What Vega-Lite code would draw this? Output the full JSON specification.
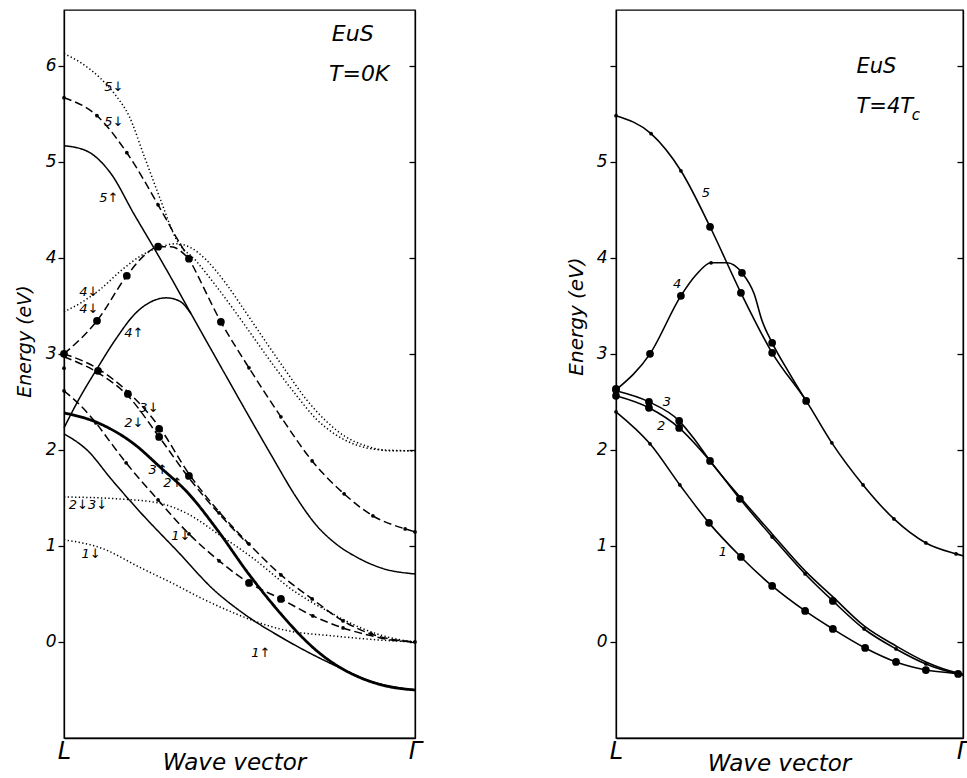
{
  "$schema": "https://vega.github.io/schema/vega-lite/v6.json",
  "padding": {"left": 14, "top": 9, "right": 0, "bottom": 0},
  "spacing": 142,
  "config": {
    "font": "DejaVu Sans",
    "view": {"stroke": "black", "strokeWidth": 1.3},
    "axis": {"domainColor": "black", "domainWidth": 1.3, "tickColor": "black", "tickWidth": 1.3, "labelColor": "black", "titleColor": "black", "labelFontStyle": "italic", "titleFontStyle": "italic", "titleFontWeight": "normal", "grid": false, "labelFlush": false, "labelOverlap": false}
  },
  "datasets": {
    "L_curves": [
      {"curve": "dot5", "series": "downB", "deg": "1", "x": 0, "y": 6.125},
      {"curve": "dot5", "series": "downB", "deg": "1", "x": 0.048, "y": 6.031},
      {"curve": "dot5", "series": "downB", "deg": "1", "x": 0.105, "y": 5.865},
      {"curve": "dot5", "series": "downB", "deg": "1", "x": 0.148, "y": 5.688},
      {"curve": "dot5", "series": "downB", "deg": "1", "x": 0.185, "y": 5.479},
      {"curve": "dot5", "series": "downB", "deg": "1", "x": 0.228, "y": 5.063},
      {"curve": "dot5", "series": "downB", "deg": "1", "x": 0.276, "y": 4.594},
      {"curve": "dot5", "series": "downB", "deg": "1", "x": 0.319, "y": 4.198},
      {"curve": "dot5", "series": "downB", "deg": "1", "x": 0.376, "y": 3.969},
      {"curve": "dot5", "series": "downB", "deg": "1", "x": 0.433, "y": 3.708},
      {"curve": "dot5", "series": "downB", "deg": "1", "x": 0.49, "y": 3.427},
      {"curve": "dot5", "series": "downB", "deg": "1", "x": 0.547, "y": 3.135},
      {"curve": "dot5", "series": "downB", "deg": "1", "x": 0.604, "y": 2.844},
      {"curve": "dot5", "series": "downB", "deg": "1", "x": 0.661, "y": 2.573},
      {"curve": "dot5", "series": "downB", "deg": "1", "x": 0.718, "y": 2.323},
      {"curve": "dot5", "series": "downB", "deg": "1", "x": 0.775, "y": 2.156},
      {"curve": "dot5", "series": "downB", "deg": "1", "x": 0.832, "y": 2.052},
      {"curve": "dot5", "series": "downB", "deg": "1", "x": 0.903, "y": 2.0},
      {"curve": "dot5", "series": "downB", "deg": "1", "x": 1, "y": 1.99},
      {"curve": "dot4", "series": "downB", "deg": "1", "x": 0, "y": 3.438},
      {"curve": "dot4", "series": "downB", "deg": "1", "x": 0.048, "y": 3.531},
      {"curve": "dot4", "series": "downB", "deg": "1", "x": 0.105, "y": 3.677},
      {"curve": "dot4", "series": "downB", "deg": "1", "x": 0.162, "y": 3.865},
      {"curve": "dot4", "series": "downB", "deg": "1", "x": 0.219, "y": 4.021},
      {"curve": "dot4", "series": "downB", "deg": "1", "x": 0.276, "y": 4.115},
      {"curve": "dot4", "series": "downB", "deg": "1", "x": 0.319, "y": 4.146},
      {"curve": "dot4", "series": "downB", "deg": "1", "x": 0.362, "y": 4.104},
      {"curve": "dot4", "series": "downB", "deg": "1", "x": 0.405, "y": 3.979},
      {"curve": "dot4", "series": "downB", "deg": "1", "x": 0.462, "y": 3.729},
      {"curve": "dot4", "series": "downB", "deg": "1", "x": 0.519, "y": 3.427},
      {"curve": "dot4", "series": "downB", "deg": "1", "x": 0.575, "y": 3.125},
      {"curve": "dot4", "series": "downB", "deg": "1", "x": 0.632, "y": 2.823},
      {"curve": "dot4", "series": "downB", "deg": "1", "x": 0.689, "y": 2.531},
      {"curve": "dot4", "series": "downB", "deg": "1", "x": 0.746, "y": 2.302},
      {"curve": "dot4", "series": "downB", "deg": "1", "x": 0.803, "y": 2.135},
      {"curve": "dot4", "series": "downB", "deg": "1", "x": 0.86, "y": 2.042},
      {"curve": "dot4", "series": "downB", "deg": "1", "x": 0.932, "y": 1.99},
      {"curve": "dot4", "series": "downB", "deg": "1", "x": 1, "y": 1.99},
      {"curve": "dash5", "series": "downA", "deg": "1", "x": 0, "y": 5.667},
      {"curve": "dash5", "series": "downA", "deg": "1", "x": 0.094, "y": 5.479},
      {"curve": "dash5", "series": "downA", "deg": "1", "x": 0.179, "y": 5.094},
      {"curve": "dash5", "series": "downA", "deg": "1", "x": 0.268, "y": 4.552},
      {"curve": "dash5", "series": "downA", "deg": "1", "x": 0.319, "y": 4.219},
      {"curve": "dash5", "series": "downA", "deg": "1", "x": 0.356, "y": 3.99},
      {"curve": "dash5", "series": "downA", "deg": "1", "x": 0.447, "y": 3.333},
      {"curve": "dash5", "series": "downA", "deg": "1", "x": 0.527, "y": 2.854},
      {"curve": "dash5", "series": "downA", "deg": "1", "x": 0.618, "y": 2.344},
      {"curve": "dash5", "series": "downA", "deg": "1", "x": 0.707, "y": 1.885},
      {"curve": "dash5", "series": "downA", "deg": "1", "x": 0.798, "y": 1.542},
      {"curve": "dash5", "series": "downA", "deg": "1", "x": 0.88, "y": 1.313},
      {"curve": "dash5", "series": "downA", "deg": "1", "x": 0.972, "y": 1.177},
      {"curve": "dash5", "series": "downA", "deg": "1", "x": 1, "y": 1.146},
      {"curve": "dash4", "series": "downA", "deg": "1", "x": 0, "y": 3.0},
      {"curve": "dash4", "series": "downA", "deg": "1", "x": 0.094, "y": 3.344},
      {"curve": "dash4", "series": "downA", "deg": "1", "x": 0.179, "y": 3.813},
      {"curve": "dash4", "series": "downA", "deg": "1", "x": 0.234, "y": 4.042},
      {"curve": "dash4", "series": "downA", "deg": "1", "x": 0.268, "y": 4.115},
      {"curve": "dash4", "series": "downA", "deg": "1", "x": 0.305, "y": 4.115},
      {"curve": "dash4", "series": "downA", "deg": "1", "x": 0.356, "y": 3.99},
      {"curve": "sol5", "series": "up", "deg": "1", "x": 0, "y": 5.167},
      {"curve": "sol5", "series": "up", "deg": "1", "x": 0.063, "y": 5.115},
      {"curve": "sol5", "series": "up", "deg": "1", "x": 0.134, "y": 4.875},
      {"curve": "sol5", "series": "up", "deg": "1", "x": 0.199, "y": 4.458},
      {"curve": "sol5", "series": "up", "deg": "1", "x": 0.256, "y": 4.104},
      {"curve": "sol5", "series": "up", "deg": "1", "x": 0.305, "y": 3.792},
      {"curve": "sol5", "series": "up", "deg": "1", "x": 0.362, "y": 3.417},
      {"curve": "sol5", "series": "up", "deg": "1", "x": 0.439, "y": 2.917},
      {"curve": "sol5", "series": "up", "deg": "1", "x": 0.513, "y": 2.438},
      {"curve": "sol5", "series": "up", "deg": "1", "x": 0.59, "y": 1.948},
      {"curve": "sol5", "series": "up", "deg": "1", "x": 0.661, "y": 1.51},
      {"curve": "sol5", "series": "up", "deg": "1", "x": 0.718, "y": 1.219},
      {"curve": "sol5", "series": "up", "deg": "1", "x": 0.775, "y": 1.021},
      {"curve": "sol5", "series": "up", "deg": "1", "x": 0.838, "y": 0.875},
      {"curve": "sol5", "series": "up", "deg": "1", "x": 0.903, "y": 0.771},
      {"curve": "sol5", "series": "up", "deg": "1", "x": 1, "y": 0.708},
      {"curve": "sol4", "series": "up", "deg": "1", "x": 0, "y": 2.229},
      {"curve": "sol4", "series": "up", "deg": "1", "x": 0.043, "y": 2.531},
      {"curve": "sol4", "series": "up", "deg": "1", "x": 0.094, "y": 2.844},
      {"curve": "sol4", "series": "up", "deg": "1", "x": 0.148, "y": 3.156},
      {"curve": "sol4", "series": "up", "deg": "1", "x": 0.205, "y": 3.427},
      {"curve": "sol4", "series": "up", "deg": "1", "x": 0.248, "y": 3.542},
      {"curve": "sol4", "series": "up", "deg": "1", "x": 0.291, "y": 3.583},
      {"curve": "sol4", "series": "up", "deg": "1", "x": 0.328, "y": 3.552},
      {"curve": "sol4", "series": "up", "deg": "1", "x": 0.362, "y": 3.417},
      {"curve": "dash3dn", "series": "downA", "deg": "1", "x": 0, "y": 3.0},
      {"curve": "dash3dn", "series": "downA", "deg": "1", "x": 0.097, "y": 2.844},
      {"curve": "dash3dn", "series": "downA", "deg": "1", "x": 0.182, "y": 2.604},
      {"curve": "dash3dn", "series": "downA", "deg": "1", "x": 0.271, "y": 2.24},
      {"curve": "dash3dn", "series": "downA", "deg": "1", "x": 0.356, "y": 1.75},
      {"curve": "dash3dn", "series": "downA", "deg": "1", "x": 0.442, "y": 1.354},
      {"curve": "dash3dn", "series": "downA", "deg": "1", "x": 0.527, "y": 1.021},
      {"curve": "dash3dn", "series": "downA", "deg": "1", "x": 0.618, "y": 0.698},
      {"curve": "dash3dn", "series": "downA", "deg": "1", "x": 0.707, "y": 0.448},
      {"curve": "dash3dn", "series": "downA", "deg": "1", "x": 0.795, "y": 0.219},
      {"curve": "dash3dn", "series": "downA", "deg": "1", "x": 0.875, "y": 0.083},
      {"curve": "dash3dn", "series": "downA", "deg": "1", "x": 0.946, "y": 0.021},
      {"curve": "dash3dn", "series": "downA", "deg": "1", "x": 1, "y": 0},
      {"curve": "dash2dn", "series": "downA", "deg": "1", "x": 0, "y": 2.969},
      {"curve": "dash2dn", "series": "downA", "deg": "1", "x": 0.097, "y": 2.802},
      {"curve": "dash2dn", "series": "downA", "deg": "1", "x": 0.182, "y": 2.563},
      {"curve": "dash2dn", "series": "downA", "deg": "1", "x": 0.271, "y": 2.135},
      {"curve": "dash2dn", "series": "downA", "deg": "1", "x": 0.356, "y": 1.708},
      {"curve": "dash2dn", "series": "downA", "deg": "1", "x": 0.442, "y": 1.333},
      {"curve": "dash2dn", "series": "downA", "deg": "1", "x": 0.527, "y": 1.01},
      {"curve": "dash1dn", "series": "downA", "deg": "1", "x": 0, "y": 2.615},
      {"curve": "dash1dn", "series": "downA", "deg": "1", "x": 0.048, "y": 2.458},
      {"curve": "dash1dn", "series": "downA", "deg": "1", "x": 0.091, "y": 2.281},
      {"curve": "dash1dn", "series": "downA", "deg": "1", "x": 0.125, "y": 2.115},
      {"curve": "dash1dn", "series": "downA", "deg": "1", "x": 0.177, "y": 1.865},
      {"curve": "dash1dn", "series": "downA", "deg": "1", "x": 0.268, "y": 1.479},
      {"curve": "dash1dn", "series": "downA", "deg": "1", "x": 0.356, "y": 1.125},
      {"curve": "dash1dn", "series": "downA", "deg": "1", "x": 0.442, "y": 0.844},
      {"curve": "dash1dn", "series": "downA", "deg": "1", "x": 0.527, "y": 0.615},
      {"curve": "dash1dn", "series": "downA", "deg": "1", "x": 0.618, "y": 0.448},
      {"curve": "dash1dn", "series": "downA", "deg": "1", "x": 0.709, "y": 0.271},
      {"curve": "dash1dn", "series": "downA", "deg": "1", "x": 0.795, "y": 0.146},
      {"curve": "dash1dn", "series": "downA", "deg": "1", "x": 0.866, "y": 0.073},
      {"curve": "dash1dn", "series": "downA", "deg": "1", "x": 0.932, "y": 0.021},
      {"curve": "dash1dn", "series": "downA", "deg": "1", "x": 1, "y": 0},
      {"curve": "dot1dn", "series": "downB", "deg": "1", "x": 0, "y": 1.063},
      {"curve": "dot1dn", "series": "downB", "deg": "1", "x": 0.105, "y": 0.979},
      {"curve": "dot1dn", "series": "downB", "deg": "1", "x": 0.219, "y": 0.771},
      {"curve": "dot1dn", "series": "downB", "deg": "1", "x": 0.313, "y": 0.604},
      {"curve": "dot1dn", "series": "downB", "deg": "1", "x": 0.39, "y": 0.458},
      {"curve": "dot1dn", "series": "downB", "deg": "1", "x": 0.484, "y": 0.302},
      {"curve": "dot1dn", "series": "downB", "deg": "1", "x": 0.541, "y": 0.219},
      {"curve": "dot1dn", "series": "downB", "deg": "1", "x": 0.627, "y": 0.125},
      {"curve": "dot1dn", "series": "downB", "deg": "1", "x": 0.769, "y": 0.0625},
      {"curve": "dot1dn", "series": "downB", "deg": "1", "x": 0.9, "y": 0.02},
      {"curve": "dot1dn", "series": "downB", "deg": "1", "x": 1, "y": 0},
      {"curve": "dot23dn", "series": "downB", "deg": "1", "x": 0, "y": 1.51},
      {"curve": "dot23dn", "series": "downB", "deg": "1", "x": 0.154, "y": 1.49},
      {"curve": "dot23dn", "series": "downB", "deg": "1", "x": 0.268, "y": 1.448},
      {"curve": "dot23dn", "series": "downB", "deg": "1", "x": 0.353, "y": 1.333},
      {"curve": "dot23dn", "series": "downB", "deg": "1", "x": 0.439, "y": 1.125},
      {"curve": "dot23dn", "series": "downB", "deg": "1", "x": 0.541, "y": 0.865},
      {"curve": "dot23dn", "series": "downB", "deg": "1", "x": 0.655, "y": 0.531},
      {"curve": "dot23dn", "series": "downB", "deg": "1", "x": 0.761, "y": 0.302},
      {"curve": "dot23dn", "series": "downB", "deg": "1", "x": 0.846, "y": 0.146},
      {"curve": "dot23dn", "series": "downB", "deg": "1", "x": 0.932, "y": 0.042},
      {"curve": "dot23dn", "series": "downB", "deg": "1", "x": 1, "y": 0},
      {"curve": "sol23up", "series": "up", "deg": "2", "x": 0, "y": 2.385},
      {"curve": "sol23up", "series": "up", "deg": "2", "x": 0.097, "y": 2.281},
      {"curve": "sol23up", "series": "up", "deg": "2", "x": 0.199, "y": 2.063},
      {"curve": "sol23up", "series": "up", "deg": "2", "x": 0.276, "y": 1.813},
      {"curve": "sol23up", "series": "up", "deg": "2", "x": 0.353, "y": 1.552},
      {"curve": "sol23up", "series": "up", "deg": "2", "x": 0.439, "y": 1.156},
      {"curve": "sol23up", "series": "up", "deg": "2", "x": 0.524, "y": 0.719},
      {"curve": "sol23up", "series": "up", "deg": "2", "x": 0.618, "y": 0.292},
      {"curve": "sol23up", "series": "up", "deg": "2", "x": 0.675, "y": 0.0625},
      {"curve": "sol23up", "series": "up", "deg": "2", "x": 0.724, "y": -0.104},
      {"curve": "sol23up", "series": "up", "deg": "2", "x": 0.789, "y": -0.271},
      {"curve": "sol23up", "series": "up", "deg": "2", "x": 0.846, "y": -0.375},
      {"curve": "sol23up", "series": "up", "deg": "2", "x": 0.917, "y": -0.458},
      {"curve": "sol23up", "series": "up", "deg": "2", "x": 1, "y": -0.5},
      {"curve": "sol1up", "series": "up", "deg": "1", "x": 0, "y": 2.167},
      {"curve": "sol1up", "series": "up", "deg": "1", "x": 0.068, "y": 1.99},
      {"curve": "sol1up", "series": "up", "deg": "1", "x": 0.134, "y": 1.698},
      {"curve": "sol1up", "series": "up", "deg": "1", "x": 0.219, "y": 1.344},
      {"curve": "sol1up", "series": "up", "deg": "1", "x": 0.325, "y": 0.9375},
      {"curve": "sol1up", "series": "up", "deg": "1", "x": 0.427, "y": 0.542},
      {"curve": "sol1up", "series": "up", "deg": "1", "x": 0.513, "y": 0.292},
      {"curve": "sol1up", "series": "up", "deg": "1", "x": 0.627, "y": 0.031},
      {"curve": "sol1up", "series": "up", "deg": "1", "x": 0.769, "y": -0.24},
      {"curve": "sol1up", "series": "up", "deg": "1", "x": 0.883, "y": -0.417},
      {"curve": "sol1up", "series": "up", "deg": "1", "x": 1, "y": -0.5}
    ],
    "L_dots": [
      {"kind": "minor", "x": 0, "y": 5.667}, {"kind": "minor", "x": 0.094, "y": 5.479}, {"kind": "minor", "x": 0.179, "y": 5.094},
      {"kind": "minor", "x": 0.268, "y": 4.552}, {"kind": "minor", "x": 0.527, "y": 2.854}, {"kind": "minor", "x": 0.618, "y": 2.344},
      {"kind": "minor", "x": 0.707, "y": 1.885}, {"kind": "minor", "x": 0.798, "y": 1.542}, {"kind": "minor", "x": 0.88, "y": 1.313},
      {"kind": "minor", "x": 0.972, "y": 1.177}, {"kind": "minor", "x": 1, "y": 1.146},
      {"kind": "major", "x": 0.356, "y": 3.99}, {"kind": "major", "x": 0.447, "y": 3.333}, {"kind": "major", "x": 0.094, "y": 3.344},
      {"kind": "major", "x": 0.179, "y": 3.813}, {"kind": "major", "x": 0.268, "y": 4.115}, {"kind": "major", "x": 0, "y": 3.0},
      {"kind": "minor", "x": 0, "y": 2.615}, {"kind": "minor", "x": 0, "y": 2.85},
      {"kind": "major", "x": 0.097, "y": 2.823}, {"kind": "major", "x": 0.182, "y": 2.583}, {"kind": "major", "x": 0.271, "y": 2.219},
      {"kind": "major", "x": 0.271, "y": 2.135}, {"kind": "major", "x": 0.356, "y": 1.729},
      {"kind": "minor", "x": 0.442, "y": 1.344}, {"kind": "minor", "x": 0.527, "y": 1.021}, {"kind": "minor", "x": 0.618, "y": 0.698},
      {"kind": "minor", "x": 0.707, "y": 0.448}, {"kind": "minor", "x": 0.795, "y": 0.219}, {"kind": "minor", "x": 0.875, "y": 0.083},
      {"kind": "minor", "x": 0.091, "y": 2.281}, {"kind": "minor", "x": 0.177, "y": 1.865}, {"kind": "minor", "x": 0.268, "y": 1.479},
      {"kind": "minor", "x": 0.356, "y": 1.125}, {"kind": "minor", "x": 0.442, "y": 0.844}, {"kind": "minor", "x": 0.709, "y": 0.271},
      {"kind": "minor", "x": 0.795, "y": 0.146}, {"kind": "minor", "x": 1, "y": 0},
      {"kind": "major", "x": 0.527, "y": 0.615}, {"kind": "major", "x": 0.618, "y": 0.448}
    ],
    "L_labels": [
      {"label": "5↓", "x": 0.142, "y": 5.78}, {"label": "5↓", "x": 0.142, "y": 5.41}, {"label": "5↑", "x": 0.128, "y": 4.625},
      {"label": "4↓", "x": 0.071, "y": 3.646}, {"label": "4↓", "x": 0.071, "y": 3.469}, {"label": "4↑", "x": 0.199, "y": 3.219},
      {"label": "3↓", "x": 0.242, "y": 2.4375}, {"label": "2↓", "x": 0.199, "y": 2.281}, {"label": "3↑", "x": 0.268, "y": 1.79},
      {"label": "2↑", "x": 0.31, "y": 1.66}, {"label": "2↓3↓", "x": 0.068, "y": 1.427}, {"label": "1↓", "x": 0.333, "y": 1.104},
      {"label": "1↓", "x": 0.077, "y": 0.917}, {"label": "1↑", "x": 0.561, "y": -0.115}
    ],
    "L_head": [
      {"label": "EuS", "x": 0.763, "y": 6.26}, {"label": "T=0K", "x": 0.755, "y": 5.84}
    ],
    "R_curves": [
      {"curve": "c5", "x": 0, "y": 5.479}, {"curve": "c5", "x": 0.101, "y": 5.292}, {"curve": "c5", "x": 0.187, "y": 4.906},
      {"curve": "c5", "x": 0.271, "y": 4.323}, {"curve": "c5", "x": 0.36, "y": 3.635}, {"curve": "c5", "x": 0.45, "y": 3.01},
      {"curve": "c5", "x": 0.548, "y": 2.51}, {"curve": "c5", "x": 0.622, "y": 2.073}, {"curve": "c5", "x": 0.712, "y": 1.635},
      {"curve": "c5", "x": 0.801, "y": 1.281}, {"curve": "c5", "x": 0.893, "y": 1.031}, {"curve": "c5", "x": 0.98, "y": 0.917},
      {"curve": "c5", "x": 1, "y": 0.896},
      {"curve": "c4", "x": 0, "y": 2.625}, {"curve": "c4", "x": 0.098, "y": 3.0}, {"curve": "c4", "x": 0.187, "y": 3.604},
      {"curve": "c4", "x": 0.231, "y": 3.823}, {"curve": "c4", "x": 0.274, "y": 3.948}, {"curve": "c4", "x": 0.32, "y": 3.948},
      {"curve": "c4", "x": 0.363, "y": 3.844}, {"curve": "c4", "x": 0.398, "y": 3.625}, {"curve": "c4", "x": 0.421, "y": 3.344},
      {"curve": "c4", "x": 0.45, "y": 3.115}, {"curve": "c4", "x": 0.499, "y": 2.802}, {"curve": "c4", "x": 0.548, "y": 2.51},
      {"curve": "c3", "x": 0, "y": 2.615}, {"curve": "c3", "x": 0.095, "y": 2.5}, {"curve": "c3", "x": 0.182, "y": 2.302},
      {"curve": "c3", "x": 0.225, "y": 2.115}, {"curve": "c3", "x": 0.271, "y": 1.885}, {"curve": "c3", "x": 0.357, "y": 1.51},
      {"curve": "c3", "x": 0.45, "y": 1.125}, {"curve": "c3", "x": 0.545, "y": 0.74}, {"curve": "c3", "x": 0.625, "y": 0.469},
      {"curve": "c3", "x": 0.715, "y": 0.167}, {"curve": "c3", "x": 0.807, "y": -0.042}, {"curve": "c3", "x": 0.893, "y": -0.208},
      {"curve": "c3", "x": 0.986, "y": -0.323}, {"curve": "c3", "x": 1, "y": -0.333},
      {"curve": "c2", "x": 0, "y": 2.563}, {"curve": "c2", "x": 0.095, "y": 2.438}, {"curve": "c2", "x": 0.182, "y": 2.229},
      {"curve": "c2", "x": 0.271, "y": 1.885}, {"curve": "c2", "x": 0.357, "y": 1.49}, {"curve": "c2", "x": 0.45, "y": 1.094},
      {"curve": "c2", "x": 0.545, "y": 0.708}, {"curve": "c2", "x": 0.625, "y": 0.427}, {"curve": "c2", "x": 0.715, "y": 0.135},
      {"curve": "c2", "x": 0.807, "y": -0.073}, {"curve": "c2", "x": 0.893, "y": -0.229}, {"curve": "c2", "x": 0.986, "y": -0.333},
      {"curve": "c2", "x": 1, "y": -0.344},
      {"curve": "c1", "x": 0, "y": 2.396}, {"curve": "c1", "x": 0.098, "y": 2.063}, {"curve": "c1", "x": 0.184, "y": 1.635},
      {"curve": "c1", "x": 0.268, "y": 1.24}, {"curve": "c1", "x": 0.36, "y": 0.885}, {"curve": "c1", "x": 0.45, "y": 0.583},
      {"curve": "c1", "x": 0.545, "y": 0.323}, {"curve": "c1", "x": 0.625, "y": 0.135}, {"curve": "c1", "x": 0.718, "y": -0.0625},
      {"curve": "c1", "x": 0.807, "y": -0.208}, {"curve": "c1", "x": 0.893, "y": -0.292}, {"curve": "c1", "x": 0.986, "y": -0.333},
      {"curve": "c1", "x": 1, "y": -0.344}
    ],
    "R_dots": [
      {"kind": "minor", "x": 0, "y": 5.479}, {"kind": "minor", "x": 0.101, "y": 5.292}, {"kind": "minor", "x": 0.187, "y": 4.906},
      {"kind": "major", "x": 0.271, "y": 4.323}, {"kind": "major", "x": 0.36, "y": 3.635}, {"kind": "major", "x": 0.45, "y": 3.01},
      {"kind": "major", "x": 0.548, "y": 2.51}, {"kind": "minor", "x": 0.622, "y": 2.073}, {"kind": "minor", "x": 0.712, "y": 1.635},
      {"kind": "minor", "x": 0.801, "y": 1.281}, {"kind": "minor", "x": 0.893, "y": 1.031}, {"kind": "minor", "x": 0.98, "y": 0.917},
      {"kind": "major", "x": 0, "y": 2.625}, {"kind": "major", "x": 0.098, "y": 3.0}, {"kind": "major", "x": 0.187, "y": 3.604},
      {"kind": "minor", "x": 0.274, "y": 3.948}, {"kind": "major", "x": 0.363, "y": 3.844}, {"kind": "major", "x": 0.45, "y": 3.115},
      {"kind": "major", "x": 0, "y": 2.635}, {"kind": "major", "x": 0.095, "y": 2.5}, {"kind": "major", "x": 0.182, "y": 2.302},
      {"kind": "major", "x": 0, "y": 2.563}, {"kind": "major", "x": 0.095, "y": 2.438}, {"kind": "major", "x": 0.182, "y": 2.229},
      {"kind": "major", "x": 0.271, "y": 1.885}, {"kind": "major", "x": 0.357, "y": 1.49}, {"kind": "minor", "x": 0.45, "y": 1.094},
      {"kind": "minor", "x": 0.545, "y": 0.708}, {"kind": "major", "x": 0.625, "y": 0.427}, {"kind": "minor", "x": 0.715, "y": 0.135},
      {"kind": "minor", "x": 0.807, "y": -0.073}, {"kind": "minor", "x": 0.893, "y": -0.229},
      {"kind": "minor", "x": 0, "y": 2.396}, {"kind": "minor", "x": 0.098, "y": 2.063}, {"kind": "minor", "x": 0.184, "y": 1.635},
      {"kind": "major", "x": 0.268, "y": 1.24}, {"kind": "major", "x": 0.36, "y": 0.885}, {"kind": "major", "x": 0.45, "y": 0.583},
      {"kind": "major", "x": 0.545, "y": 0.323}, {"kind": "major", "x": 0.625, "y": 0.135}, {"kind": "major", "x": 0.718, "y": -0.0625},
      {"kind": "major", "x": 0.807, "y": -0.208}, {"kind": "major", "x": 0.893, "y": -0.292}, {"kind": "major", "x": 0.986, "y": -0.333}
    ],
    "R_labels": [
      {"label": "5", "x": 0.259, "y": 4.677}, {"label": "4", "x": 0.176, "y": 3.729}, {"label": "3", "x": 0.147, "y": 2.5},
      {"label": "2", "x": 0.13, "y": 2.25}, {"label": "1", "x": 0.308, "y": 0.9375}
    ],
    "R_head": [
      {"label": "EuS", "x": 0.693, "y": 5.92}, {"label": "T=4T", "x": 0.693, "y": 5.51}
    ],
    "R_sub": [
      {"label": "c", "x": 0.852, "y": 5.43}
    ]
  },
  "hconcat": [
    {
      "width": 351,
      "height": 728,
      "resolve": {"axis": {"y": "independent"}},
      "layer": [
        {
          "data": {"name": "L_curves"},
          "mark": {"type": "line", "interpolate": "monotone", "color": "black"},
          "encoding": {
            "x": {"field": "x", "type": "quantitative", "scale": {"domain": [0, 1], "nice": false},
              "axis": {"values": [0, 1], "labelExpr": "datum.value == 0 ? 'L' : 'Γ'", "labelFontSize": 24, "labelPadding": 1, "labelBaseline": "top", "ticks": false, "title": "Wave vector", "titleFontSize": 23, "titleX": 170, "titleY": 31, "titleBaseline": "alphabetic"}},
            "y": {"field": "y", "type": "quantitative", "scale": {"domain": [-1, 6.58], "nice": false, "zero": false},
              "axis": {"orient": "left", "values": [0, 1, 2, 3, 4, 5, 6], "labelFontSize": 17, "tickSize": 6, "labelPadding": 2, "title": "Energy (eV)", "titleFontSize": 19, "titleAngle": 270, "titleX": -30, "titleY": 331, "titleAlign": "center", "titleBaseline": "bottom"}},
            "detail": {"field": "curve"},
            "strokeDash": {"field": "series", "type": "nominal", "scale": {"domain": ["up", "downA", "downB"], "range": [[1, 0], [8, 4], [1.3, 2.4]]}, "legend": null},
            "strokeWidth": {"field": "deg", "type": "nominal", "scale": {"domain": ["1", "2"], "range": [1.5, 2.8]}, "legend": null}
          }
        },
        {
          "data": {"name": "L_dots"},
          "mark": {"type": "circle", "color": "black", "opacity": 1},
          "encoding": {
            "x": {"field": "x", "type": "quantitative"},
            "y": {"field": "y", "type": "quantitative", "axis": {"orient": "right", "values": [0, 1, 2, 3, 4, 5, 6], "labels": false, "tickSize": -6, "title": null}},
            "size": {"field": "kind", "type": "nominal", "scale": {"domain": ["major", "minor"], "range": [60, 14]}, "legend": null}
          }
        },
        {
          "data": {"name": "L_labels"},
          "mark": {"type": "text", "fontSize": 13, "fontStyle": "italic", "color": "black", "align": "center", "baseline": "middle"},
          "encoding": {
            "x": {"field": "x", "type": "quantitative"},
            "y": {"field": "y", "type": "quantitative", "axis": null},
            "text": {"field": "label"}
          }
        },
        {
          "data": {"name": "L_head"},
          "mark": {"type": "text", "fontSize": 22, "fontStyle": "italic", "color": "black", "align": "left", "baseline": "alphabetic"},
          "encoding": {
            "x": {"field": "x", "type": "quantitative"},
            "y": {"field": "y", "type": "quantitative", "axis": null},
            "text": {"field": "label"}
          }
        }
      ]
    },
    {
      "width": 347,
      "height": 728,
      "resolve": {"axis": {"y": "independent"}},
      "layer": [
        {
          "data": {"name": "R_curves"},
          "mark": {"type": "line", "interpolate": "monotone", "color": "black", "strokeWidth": 1.6},
          "encoding": {
            "x": {"field": "x", "type": "quantitative", "scale": {"domain": [0, 1], "nice": false},
              "axis": {"values": [0, 1], "labelExpr": "datum.value == 0 ? 'L' : 'Γ'", "labelFontSize": 24, "labelPadding": 1, "labelBaseline": "top", "ticks": false, "title": "Wave vector", "titleFontSize": 23, "titleX": 163, "titleY": 32, "titleBaseline": "alphabetic"}},
            "y": {"field": "y", "type": "quantitative", "scale": {"domain": [-1, 6.58], "nice": false, "zero": false},
              "axis": {"orient": "left", "values": [0, 1, 2, 3, 4, 5, 6], "labelExpr": "datum.value == 6 ? '' : datum.label", "labelFontSize": 17, "tickSize": 6, "labelPadding": 3, "title": "Energy (eV)", "titleFontSize": 20, "titleAngle": 270, "titleX": -30, "titleY": 306, "titleAlign": "center", "titleBaseline": "bottom"}},
            "detail": {"field": "curve"}
          }
        },
        {
          "data": {"name": "R_dots"},
          "mark": {"type": "circle", "color": "black", "opacity": 1},
          "encoding": {
            "x": {"field": "x", "type": "quantitative"},
            "y": {"field": "y", "type": "quantitative", "axis": {"orient": "right", "values": [0, 1, 2, 3, 4, 5, 6], "labels": false, "tickSize": -6, "title": null}},
            "size": {"field": "kind", "type": "nominal", "scale": {"domain": ["major", "minor"], "range": [60, 14]}, "legend": null}
          }
        },
        {
          "data": {"name": "R_labels"},
          "mark": {"type": "text", "fontSize": 13, "fontStyle": "italic", "color": "black", "align": "center", "baseline": "middle"},
          "encoding": {
            "x": {"field": "x", "type": "quantitative"},
            "y": {"field": "y", "type": "quantitative", "axis": null},
            "text": {"field": "label"}
          }
        },
        {
          "data": {"name": "R_head"},
          "mark": {"type": "text", "fontSize": 21, "fontStyle": "italic", "color": "black", "align": "left", "baseline": "alphabetic"},
          "encoding": {
            "x": {"field": "x", "type": "quantitative"},
            "y": {"field": "y", "type": "quantitative", "axis": null},
            "text": {"field": "label"}
          }
        },
        {
          "data": {"name": "R_sub"},
          "mark": {"type": "text", "fontSize": 15, "fontStyle": "italic", "color": "black", "align": "left", "baseline": "alphabetic"},
          "encoding": {
            "x": {"field": "x", "type": "quantitative"},
            "y": {"field": "y", "type": "quantitative", "axis": null},
            "text": {"field": "label"}
          }
        }
      ]
    }
  ]
}
